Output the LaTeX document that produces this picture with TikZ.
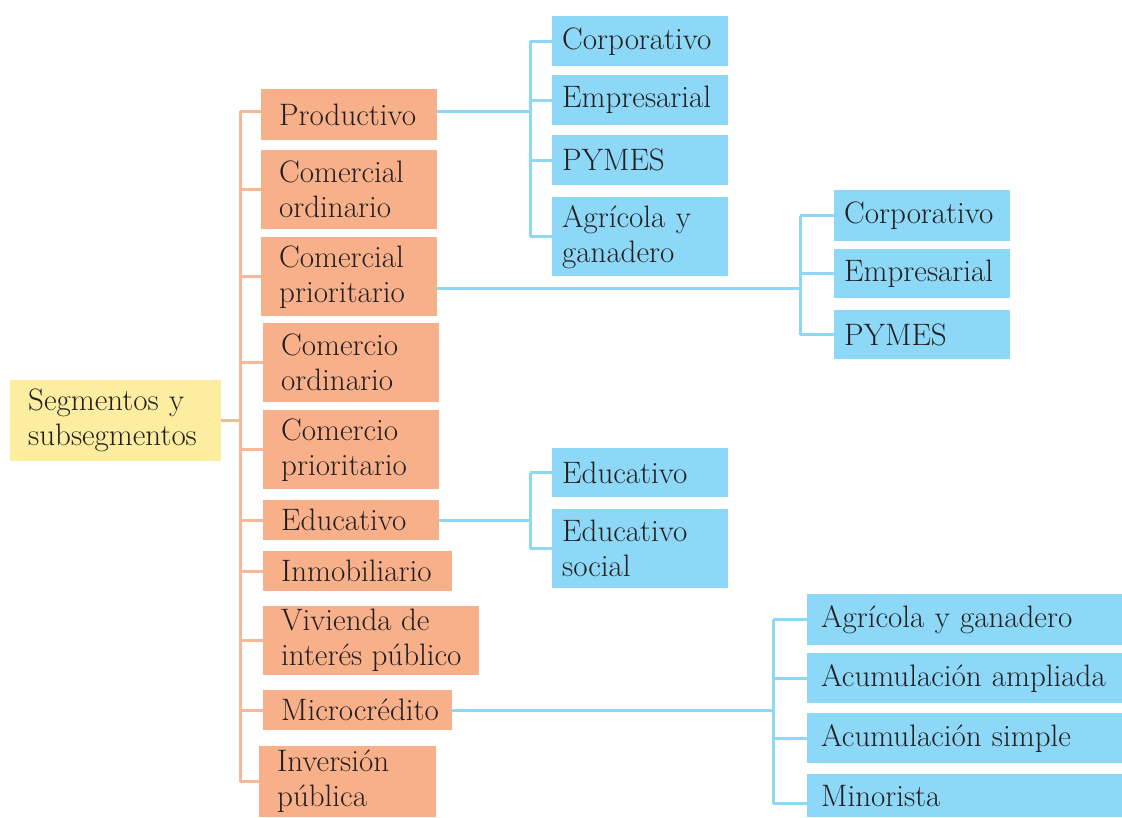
\documentclass[tikz,border=0pt]{standalone}
\usepackage{fontspec}
\setmainfont{Latin Modern Roman}
\definecolor{ofill}{HTML}{F7B08A}
\definecolor{bfill}{HTML}{8DD7F7}
\definecolor{yfill}{HTML}{FDEDA0}
\definecolor{oline}{HTML}{F8B898}
\definecolor{bline}{HTML}{8FD7F7}
\definecolor{txt}{HTML}{231F20}
\tikzset{
  box/.style={anchor=north west, inner ysep=0pt, align=left, text=txt,
    font=\fontsize{31}{35}\selectfont},
  obox/.style={box, fill=ofill, inner xsep=18pt},
  bbox/.style={box, fill=bfill, inner xsep=10pt},
  cbox/.style={box, fill=bfill, inner xsep=14pt},
  ybox/.style={box, fill=yfill, inner xsep=18pt},
  olink/.style={draw=oline, line width=3pt},
  blink/.style={draw=bline, line width=3pt},
}
\begin{document}
\begin{tikzpicture}[x=1pt,y=-1pt]
\useasboundingbox (0,0) rectangle (1122,817);
% root
\node[ybox, minimum height=81pt, text width=175pt] (root) at (10,380) {Segmentos y\\subsegmentos};
% orange
\node[obox, minimum height=51pt, text width=140pt] (prod) at (261,89) {Productivo};
\node[obox, minimum height=79pt, text width=140pt] (cord) at (261,150) {Comercial\\ordinario};
\node[obox, minimum height=79pt, text width=140pt] (cpri) at (261,237) {Comercial\\prioritario};
\node[obox, minimum height=79pt, text width=140pt] (mord) at (263,323) {Comercio\\ordinario};
\node[obox, minimum height=79pt, text width=140pt] (mpri) at (263,410) {Comercio\\prioritario};
\node[obox, minimum height=40pt, text width=140pt] (edu) at (263,500) {Educativo};
\node[obox, minimum height=40pt, text width=153pt] (inm) at (263,551) {Inmobiliario};
\node[obox, minimum height=69pt] (viv) at (263,606) {Vivienda de\\interés público};
\node[obox, minimum height=40pt, text width=153pt] (mic) at (263,690) {Microcrédito};
\node[obox, minimum height=71pt, text width=141pt] (inv) at (259,746) {Inversión\\pública};
% blue group 1
\node[bbox, minimum height=50pt, text width=156pt] (a1) at (552,16) {Corporativo};
\node[bbox, minimum height=50pt, text width=156pt] (a2) at (552,75) {Empresarial};
\node[bbox, minimum height=50pt, text width=156pt] (a3) at (552,135) {PYMES};
\node[bbox, minimum height=79pt, text width=156pt] (a4) at (552,197) {Agrícola y\\ganadero};
% blue group 2
\node[bbox, minimum height=51pt, text width=156pt] (b1) at (834,190) {Corporativo};
\node[bbox, minimum height=49pt, text width=156pt] (b2) at (834,249) {Empresarial};
\node[bbox, minimum height=49pt, text width=156pt] (b3) at (834,310) {PYMES};
% blue group 3
\node[bbox, minimum height=49pt, text width=156pt] (c1) at (552,448) {Educativo};
\node[bbox, minimum height=79pt, text width=156pt] (c2) at (552,509) {Educativo\\social};
% blue group 4
\node[cbox, minimum height=51pt, text width=287pt] (d1) at (807,594) {Agrícola y ganadero};
\node[cbox, minimum height=50pt, text width=287pt] (d2) at (807,653) {Acumulación ampliada};
\node[cbox, minimum height=50pt, text width=287pt] (d3) at (807,713) {Acumulación simple};
\node[cbox, minimum height=43pt, text width=287pt] (d4) at (807,774) {Minorista};
% spine coordinates
\coordinate (s0) at (240,0);
\coordinate (s1) at (530,0);
\coordinate (s2) at (800,0);
\coordinate (s3) at (530,0);
\coordinate (s4) at (773,0);
% anchor points
\coordinate (prodW) at ([yshift=3.5pt]prod.west);
\coordinate (prodE) at ([yshift=3.5pt]prod.east);
\coordinate (cpriE) at ([yshift=-11.5pt]cpri.east);
\coordinate (d4W) at ([yshift=-8pt]d4.west);
% orange connectors
\draw[olink] (root.east) -- (root.east -| s0);
\draw[olink] (prodW -| s0) -- (inv.west -| s0);
\draw[olink] (prodW -| s0) -- (prodW);
\foreach \n in {cord,cpri,mord,mpri,edu,inm,viv,mic,inv}
  \draw[olink] (\n.west -| s0) -- (\n.west);
% blue group 1
\draw[blink] (prodE) -- (prodE -| s1);
\draw[blink] (a1.west -| s1) -- (a4.west -| s1);
\foreach \n in {a1,a2,a3,a4} \draw[blink] (\n.west -| s1) -- (\n.west);
% group 2
\draw[blink] (cpriE) -- (cpriE -| s2);
\draw[blink] (b1.west -| s2) -- (b3.west -| s2);
\foreach \n in {b1,b2,b3} \draw[blink] (\n.west -| s2) -- (\n.west);
% group 3
\draw[blink] (edu.east) -- (edu.east -| s3);
\draw[blink] (c1.west -| s3) -- (c2.west -| s3);
\foreach \n in {c1,c2} \draw[blink] (\n.west -| s3) -- (\n.west);
% group 4
\draw[blink] (mic.east) -- (mic.east -| s4);
\draw[blink] (d1.west -| s4) -- (d4W -| s4);
\foreach \n in {d1,d2,d3} \draw[blink] (\n.west -| s4) -- (\n.west);
\draw[blink] (d4W -| s4) -- (d4W);
\end{tikzpicture}
\end{document}
